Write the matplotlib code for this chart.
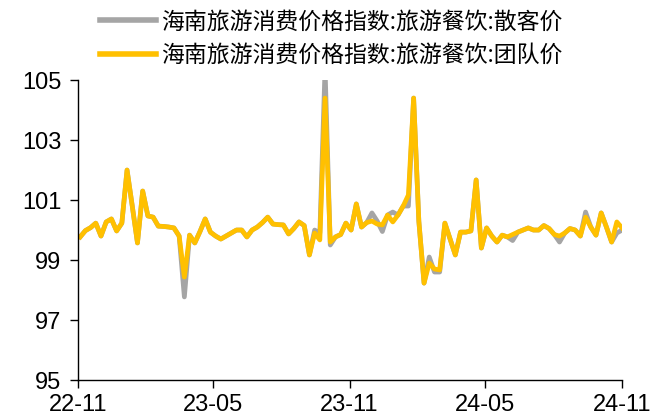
import matplotlib
matplotlib.use("Agg")
import matplotlib.pyplot as plt
import matplotlib.dates as mdates
import pandas as pd

plt.rcParams['font.family'] = ['Liberation Sans', 'DejaVu Sans']

dates = pd.date_range("2022-11-04", periods=105, freq="7D")

team = [99.77, 99.98, 100.08, 100.23, 99.80, 100.27, 100.37, 99.97, 100.23, 102.00,
        100.80, 99.57, 101.30, 100.47, 100.43, 100.13, 100.12, 100.10, 100.07, 99.80,
        98.43, 99.83, 99.57, 99.95, 100.37, 99.93, 99.80, 99.70, 99.80, 99.90,
        100.00, 100.00, 99.77, 100.00, 100.10, 100.25, 100.43, 100.20, 100.18, 100.17,
        99.87, 100.05, 100.27, 100.15, 99.17, 99.90, 99.67, 104.40, 99.60, 99.77,
        99.85, 100.23, 100.00, 100.87, 100.10, 100.25, 100.30, 100.20, 100.17, 100.50,
        100.27, 100.50, 100.80, 101.17, 104.40, 100.30, 98.23, 98.90, 98.70, 98.67,
        100.23, 99.70, 99.17, 99.93, 99.93, 99.97, 101.67, 99.40, 100.07, 99.80,
        99.60, 99.83, 99.77, 99.85, 99.93, 100.00, 100.07, 100.00, 100.00, 100.15,
        100.05, 99.85, 99.80, 99.90, 100.05, 100.00, 99.80, 100.43, 100.10, 99.83,
        100.57, 100.10, 99.60, 100.27, 100.07]

retail = list(team)
retail_adjust = {20: 97.77, 45: 100.0, 46: 99.9, 47: 105.4, 48: 99.5, 56: 100.57,
                 57: 100.3, 58: 99.95, 60: 100.6, 63: 100.8, 67: 99.1, 68: 98.6,
                 69: 98.6, 83: 99.65, 92: 99.6, 97: 100.6, 103: 99.9, 104: 100.0}
for k, v in retail_adjust.items():
    retail[k] = v

labels = ["海南旅游消费价格指数:旅游餐饮:散客价", "海南旅游消费价格指数:旅游餐饮:团队价"]
yticks = [95, 97, 99, 101, 103, 105]
xtick_dates = pd.to_datetime(["2022-11-01", "2023-05-01", "2023-11-01", "2024-05-01", "2024-11-01"])
xtick_labels = ["22-11", "23-05", "23-11", "24-05", "24-11"]

fig = plt.figure(figsize=(6.66, 4.17), dpi=100)
ax = fig.add_axes([0.117, 0.0887, 0.817, 0.7193])

l1, = ax.plot(dates, retail, color="#A5A5A5", lw=3.4, solid_joinstyle="round", label=labels[0])
l2, = ax.plot(dates, team, color="#FFC000", lw=3.4, solid_joinstyle="round", label=labels[1])

ax.set_ylim(95, 105)
ax.set_yticks(yticks)
ax.set_xlim(xtick_dates[0], xtick_dates[-1])
ax.set_xticks(xtick_dates)
ax.set_xticklabels(xtick_labels)
ax.tick_params(axis="both", labelsize=17, direction="out", length=6, width=1, color="black")
ax.tick_params(axis="x", pad=4)
ax.tick_params(axis="y", pad=6)
for s in ["top", "right"]:
    ax.spines[s].set_visible(False)
for s in ["left", "bottom"]:
    ax.spines[s].set_color("black")
    ax.spines[s].set_linewidth(1)

leg = fig.legend(handles=[l1, l2], loc="upper left", bbox_to_anchor=(0.15, 0.975),
                 frameon=False, prop={"family": ["Noto Sans CJK SC", "DejaVu Sans"], "size": 16.5},
                 handlelength=2.45, handletextpad=0.2, labelspacing=0.45,
                 borderpad=0, borderaxespad=0)
for line in leg.get_lines():
    line.set_linewidth(4)

fig.savefig("out.png", dpi=100)
